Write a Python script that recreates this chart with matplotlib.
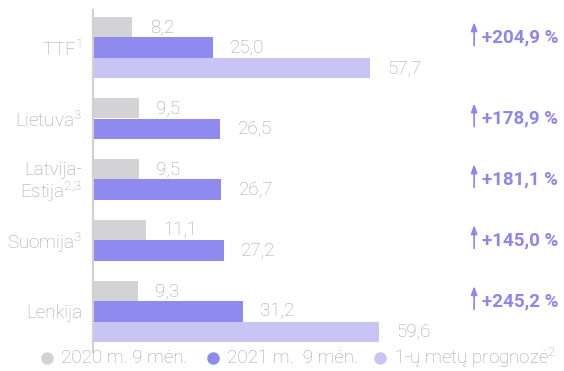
import matplotlib.pyplot as plt
from matplotlib.lines import Line2D

# gas prices, EUR/MWh
categories = ["TTF$^1$", "Lietuva$^3$", "Latvija-\nEstija$^{2{,}3}$", "Suomija$^3$", "Lenkija"]
val_2020 = [8.2, 9.5, 9.5, 11.1, 9.3]
val_2021 = [25.0, 26.5, 26.7, 27.2, 31.2]
forecast = [57.7, None, None, None, 59.6]
growth = ["+204,9 %", "+178,9 %", "+181,1 %", "+145,0 %", "+245,2 %"]
legend_labels = ["2020 m. 9 mėn.", "2021 m.  9 mėn.", "1-ų metų prognozė$^2$"]

c_2020 = "#d3d3d5"
c_2021 = "#8f8aef"
c_fc = "#c8c5f5"
c_text = "#a3a3a3"
c_pct = "#8c86ee"

plt.rcParams["font.family"] = ["Roboto", "DejaVu Sans"]
plt.rcParams["mathtext.default"] = "regular"
fs = 13.5

W, H = 564, 371
fig = plt.figure(figsize=(W / 100, H / 100), dpi=100)
# axis spans from the grey line to the right edge
x0, y_top, y_bot = 93, 10, 352
ax = fig.add_axes([x0 / W, 1 - y_bot / H, 1 - x0 / W, (y_bot - y_top) / H])
px_per_unit = 4.8
ax.set_xlim(0, (W - x0) / px_per_unit)
bar_px = 20.3
ax.set_ylim((y_bot - 17) / bar_px, (y_top - 17) / bar_px)

def fmt(v):
    return f"{v:.1f}".replace(".", ",")

# slot index of first bar in each group
pos = 0
starts = []
for f in forecast:
    starts.append(pos)
    pos += (3 if f is not None else 2) + 1

centers = []
for i, s in enumerate(starts):
    rows = [(val_2020[i], c_2020), (val_2021[i], c_2021)]
    if forecast[i] is not None:
        rows.append((forecast[i], c_fc))
    for j, (v, col) in enumerate(rows):
        ax.barh(s + j, v, height=1, align="edge", color=col, linewidth=0)
        ax.annotate(fmt(v), (v, s + j + 0.5), xytext=(12.5, 0), textcoords="offset points",
                    va="center", ha="left", fontsize=fs, color=c_text, fontweight="light")
    centers.append(s + len(rows) / 2)

    # growth arrow and percentage
    yb = s + 1
    ax.annotate("", xy=(79.4, yb - 0.75), xytext=(79.4, yb + 0.4),
                arrowprops=dict(arrowstyle="-|>,head_length=0.5,head_width=0.18",
                                color=c_pct, lw=1.2, shrinkA=0, shrinkB=0))
    ax.text(81.0, yb, growth[i], va="center", ha="left", fontsize=fs,
            fontweight="bold", color=c_pct)

ax.set_yticks(centers)
ax.set_yticklabels(categories, fontsize=fs, color=c_text, fontweight="light", linespacing=1.05)
ax.tick_params(axis="y", length=0, pad=8)
ax.set_xticks([])
for side in ["top", "right", "bottom"]:
    ax.spines[side].set_visible(False)
ax.spines["left"].set_color("#d0d0d0")
ax.spines["left"].set_linewidth(1.5)

# legend row along the bottom
leg_y = 1 - 358 / H
for xm, col, lab in zip((47, 213, 380), (c_2020, c_2021, c_fc), legend_labels):
    fig.add_artist(Line2D([xm / W], [leg_y], marker="o", markersize=9, color=col,
                          markeredgewidth=0, transform=fig.transFigure))
    fig.text((xm + 14) / W, leg_y, lab, va="center", ha="left", fontsize=fs,
             color=c_text, fontweight="light")

fig.savefig("out.png", dpi=100)
